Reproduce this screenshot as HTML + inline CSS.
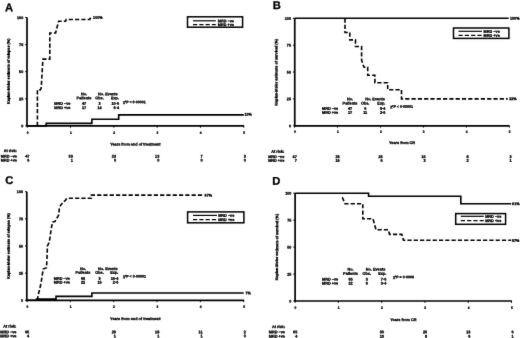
<!DOCTYPE html>
<html><head><meta charset="utf-8"><style>
html,body{margin:0;padding:0;background:#fff;width:520px;height:338px;overflow:hidden}
svg{display:block;filter:grayscale(1)}
text{stroke:#000;stroke-width:0.3px;font-family:"Liberation Sans",sans-serif}
</style></head><body>
<svg width="520" height="338" viewBox="0 0 520 338"><defs><filter id="b" filterUnits="userSpaceOnUse" x="0" y="0" width="520" height="338"><feConvolveMatrix order="3" kernelMatrix="1 10 1 10 100 10 1 10 1" divisor="144" edgeMode="duplicate"/></filter></defs><rect width="520" height="338" fill="#fff"/><g filter="url(#b)" stroke="#000" fill="#000" font-family="Liberation Sans, sans-serif"><text transform="translate(5.00,11.18) matrix(1 0.001 0 1 0 0)" font-size="11.2" text-anchor="start" font-weight="bold">A</text>
<line x1="27.00" y1="17.50" x2="27.00" y2="125.90" stroke-width="1.7"/>
<line x1="26.35" y1="125.90" x2="244.05" y2="125.90" stroke-width="1.7"/>
<line x1="25.20" y1="125.90" x2="27.00" y2="125.90" stroke-width="1.0"/>
<text transform="translate(23.20,127.31) matrix(1 0.001 0 1 0 0)" font-size="3.7" text-anchor="end" font-weight="bold">0</text>
<line x1="25.20" y1="98.80" x2="27.00" y2="98.80" stroke-width="1.0"/>
<text transform="translate(23.20,100.21) matrix(1 0.001 0 1 0 0)" font-size="3.7" text-anchor="end" font-weight="bold">25</text>
<line x1="25.20" y1="71.70" x2="27.00" y2="71.70" stroke-width="1.0"/>
<text transform="translate(23.20,73.11) matrix(1 0.001 0 1 0 0)" font-size="3.7" text-anchor="end" font-weight="bold">50</text>
<line x1="25.20" y1="44.60" x2="27.00" y2="44.60" stroke-width="1.0"/>
<text transform="translate(23.20,46.01) matrix(1 0.001 0 1 0 0)" font-size="3.7" text-anchor="end" font-weight="bold">75</text>
<line x1="25.20" y1="17.50" x2="27.00" y2="17.50" stroke-width="1.0"/>
<text transform="translate(23.20,18.91) matrix(1 0.001 0 1 0 0)" font-size="3.7" text-anchor="end" font-weight="bold">100</text>
<line x1="27.25" y1="125.90" x2="27.25" y2="127.70" stroke-width="1.0"/>
<text transform="translate(27.55,133.64) matrix(1 0.001 0 1 0 0)" font-size="3.2" text-anchor="middle" font-weight="bold">0</text>
<line x1="70.55" y1="125.90" x2="70.55" y2="127.70" stroke-width="1.0"/>
<text transform="translate(70.85,133.64) matrix(1 0.001 0 1 0 0)" font-size="3.2" text-anchor="middle" font-weight="bold">1</text>
<line x1="113.85" y1="125.90" x2="113.85" y2="127.70" stroke-width="1.0"/>
<text transform="translate(114.15,133.64) matrix(1 0.001 0 1 0 0)" font-size="3.2" text-anchor="middle" font-weight="bold">2</text>
<line x1="157.15" y1="125.90" x2="157.15" y2="127.70" stroke-width="1.0"/>
<text transform="translate(157.45,133.64) matrix(1 0.001 0 1 0 0)" font-size="3.2" text-anchor="middle" font-weight="bold">3</text>
<line x1="200.45" y1="125.90" x2="200.45" y2="127.70" stroke-width="1.0"/>
<text transform="translate(200.75,133.64) matrix(1 0.001 0 1 0 0)" font-size="3.2" text-anchor="middle" font-weight="bold">4</text>
<line x1="243.75" y1="125.90" x2="243.75" y2="127.70" stroke-width="1.0"/>
<text transform="translate(244.05,133.64) matrix(1 0.001 0 1 0 0)" font-size="3.2" text-anchor="middle" font-weight="bold">5</text>
<text transform="translate(135.38,145.55) matrix(1 0.001 0 1 0 0)" font-size="3.8" text-anchor="middle" font-weight="bold">Years from end of treatment</text>
<text transform="translate(9.83,71.30) rotate(-90) matrix(1 0.001 0 1 0 0)" font-size="3.75" text-anchor="middle" font-weight="bold">Kaplan-Meier estimate of relapse (%)</text>
<rect x="187.50" y="16.80" width="55.10" height="10.40" fill="none" stroke-width="1.5"/>
<line x1="193.00" y1="20.80" x2="215.80" y2="20.80" stroke-width="1.2"/>
<path d="M193.00,24.60H215.80" stroke-width="1.3" fill="none" stroke-dasharray="4.2 2.1"/>
<text transform="translate(217.80,22.15) matrix(1 0.001 0 1 0 0)" font-size="3.8" text-anchor="start" font-weight="bold">MRD −ve</text>
<text transform="translate(217.80,25.95) matrix(1 0.001 0 1 0 0)" font-size="3.8" text-anchor="start" font-weight="bold">MRD +ve</text>
<path d="M27,125.9H46.2V123.4H91.9V119.3H118.7V114.9H243.8" stroke-width="1.6" fill="none"/>
<path d="M37.4,125.9V89.9H40.3L41.2,88.1L42.9,59.1H49.8V33H55.6L58.6,21.3H65.6L66.2,19.5H89.8L90.6,17.5" stroke-width="1.6" fill="none" stroke-dasharray="4.2 2.1"/>
<text transform="translate(93.10,18.71) matrix(1 0.001 0 1 0 0)" font-size="3.7" text-anchor="start" font-weight="bold">100%</text>
<text transform="translate(244.50,115.41) matrix(1 0.001 0 1 0 0)" font-size="3.7" text-anchor="start" font-weight="bold">10%</text>
<text transform="translate(84.00,95.35) matrix(1 0.001 0 1 0 0)" font-size="3.8" text-anchor="middle" font-weight="bold">No.</text>
<text transform="translate(84.00,99.35) matrix(1 0.001 0 1 0 0)" font-size="3.8" text-anchor="middle" font-weight="bold">Patients</text>
<text transform="translate(98.10,95.35) matrix(1 0.001 0 1 0 0)" font-size="3.8" text-anchor="start" font-weight="bold">No. Events</text>
<text transform="translate(99.50,99.35) matrix(1 0.001 0 1 0 0)" font-size="3.8" text-anchor="middle" font-weight="bold">Obs.</text>
<text transform="translate(119.00,99.35) matrix(1 0.001 0 1 0 0)" font-size="3.8" text-anchor="end" font-weight="bold">Exp.</text>
<text transform="translate(122.90,103.28) matrix(1 0.001 0 1 0 0)" font-size="3.6" text-anchor="start" font-weight="bold">χ²P &lt; 0·00001</text>
<text transform="translate(54.30,104.75) matrix(1 0.001 0 1 0 0)" font-size="3.8" text-anchor="start" font-weight="bold">MRD −ve</text>
<text transform="translate(54.30,109.05) matrix(1 0.001 0 1 0 0)" font-size="3.8" text-anchor="start" font-weight="bold">MRD +ve</text>
<text transform="translate(84.00,104.75) matrix(1 0.001 0 1 0 0)" font-size="3.8" text-anchor="middle" font-weight="bold">47</text>
<text transform="translate(99.50,104.75) matrix(1 0.001 0 1 0 0)" font-size="3.8" text-anchor="middle" font-weight="bold">3</text>
<text transform="translate(119.00,104.75) matrix(1 0.001 0 1 0 0)" font-size="3.8" text-anchor="end" font-weight="bold">10·6</text>
<text transform="translate(84.00,109.05) matrix(1 0.001 0 1 0 0)" font-size="3.8" text-anchor="middle" font-weight="bold">17</text>
<text transform="translate(99.50,109.05) matrix(1 0.001 0 1 0 0)" font-size="3.8" text-anchor="middle" font-weight="bold">14</text>
<text transform="translate(119.00,109.05) matrix(1 0.001 0 1 0 0)" font-size="3.8" text-anchor="end" font-weight="bold">6·4</text>
<text transform="translate(16.90,151.95) matrix(1 0.001 0 1 0 0)" font-size="3.8" text-anchor="end" font-weight="bold">At risk:</text>
<text transform="translate(16.90,157.55) matrix(1 0.001 0 1 0 0)" font-size="3.8" text-anchor="end" font-weight="bold">MRD −ve</text>
<text transform="translate(16.90,161.45) matrix(1 0.001 0 1 0 0)" font-size="3.8" text-anchor="end" font-weight="bold">MRD +ve</text>
<text transform="translate(29.45,157.55) matrix(1 0.001 0 1 0 0)" font-size="3.8" text-anchor="end" font-weight="bold">47</text>
<text transform="translate(29.45,161.45) matrix(1 0.001 0 1 0 0)" font-size="3.8" text-anchor="end" font-weight="bold">6</text>
<text transform="translate(72.75,157.55) matrix(1 0.001 0 1 0 0)" font-size="3.8" text-anchor="end" font-weight="bold">33</text>
<text transform="translate(72.75,161.45) matrix(1 0.001 0 1 0 0)" font-size="3.8" text-anchor="end" font-weight="bold">1</text>
<text transform="translate(116.05,157.55) matrix(1 0.001 0 1 0 0)" font-size="3.8" text-anchor="end" font-weight="bold">23</text>
<text transform="translate(116.05,161.45) matrix(1 0.001 0 1 0 0)" font-size="3.8" text-anchor="end" font-weight="bold">0</text>
<text transform="translate(159.35,157.55) matrix(1 0.001 0 1 0 0)" font-size="3.8" text-anchor="end" font-weight="bold">13</text>
<text transform="translate(159.35,161.45) matrix(1 0.001 0 1 0 0)" font-size="3.8" text-anchor="end" font-weight="bold">0</text>
<text transform="translate(202.65,157.55) matrix(1 0.001 0 1 0 0)" font-size="3.8" text-anchor="end" font-weight="bold">7</text>
<text transform="translate(202.65,161.45) matrix(1 0.001 0 1 0 0)" font-size="3.8" text-anchor="end" font-weight="bold">0</text>
<text transform="translate(245.95,157.55) matrix(1 0.001 0 1 0 0)" font-size="3.8" text-anchor="end" font-weight="bold">3</text>
<text transform="translate(245.95,161.45) matrix(1 0.001 0 1 0 0)" font-size="3.8" text-anchor="end" font-weight="bold">0</text>
<text transform="translate(272.80,8.98) matrix(1 0.001 0 1 0 0)" font-size="11.2" text-anchor="start" font-weight="bold">B</text>
<line x1="294.75" y1="18.30" x2="294.75" y2="125.80" stroke-width="1.7"/>
<line x1="294.10" y1="125.80" x2="509.60" y2="125.80" stroke-width="1.7"/>
<line x1="292.95" y1="125.80" x2="294.75" y2="125.80" stroke-width="1.0"/>
<text transform="translate(290.95,127.21) matrix(1 0.001 0 1 0 0)" font-size="3.7" text-anchor="end" font-weight="bold">0</text>
<line x1="292.95" y1="98.92" x2="294.75" y2="98.92" stroke-width="1.0"/>
<text transform="translate(290.95,100.34) matrix(1 0.001 0 1 0 0)" font-size="3.7" text-anchor="end" font-weight="bold">25</text>
<line x1="292.95" y1="72.05" x2="294.75" y2="72.05" stroke-width="1.0"/>
<text transform="translate(290.95,73.46) matrix(1 0.001 0 1 0 0)" font-size="3.7" text-anchor="end" font-weight="bold">50</text>
<line x1="292.95" y1="45.17" x2="294.75" y2="45.17" stroke-width="1.0"/>
<text transform="translate(290.95,46.59) matrix(1 0.001 0 1 0 0)" font-size="3.7" text-anchor="end" font-weight="bold">75</text>
<line x1="292.95" y1="18.30" x2="294.75" y2="18.30" stroke-width="1.0"/>
<text transform="translate(290.95,19.71) matrix(1 0.001 0 1 0 0)" font-size="3.7" text-anchor="end" font-weight="bold">100</text>
<line x1="294.60" y1="125.80" x2="294.60" y2="127.60" stroke-width="1.0"/>
<text transform="translate(294.90,132.74) matrix(1 0.001 0 1 0 0)" font-size="3.2" text-anchor="middle" font-weight="bold">0</text>
<line x1="337.54" y1="125.80" x2="337.54" y2="127.60" stroke-width="1.0"/>
<text transform="translate(337.84,132.74) matrix(1 0.001 0 1 0 0)" font-size="3.2" text-anchor="middle" font-weight="bold">1</text>
<line x1="380.48" y1="125.80" x2="380.48" y2="127.60" stroke-width="1.0"/>
<text transform="translate(380.78,132.74) matrix(1 0.001 0 1 0 0)" font-size="3.2" text-anchor="middle" font-weight="bold">2</text>
<line x1="423.42" y1="125.80" x2="423.42" y2="127.60" stroke-width="1.0"/>
<text transform="translate(423.72,132.74) matrix(1 0.001 0 1 0 0)" font-size="3.2" text-anchor="middle" font-weight="bold">3</text>
<line x1="466.36" y1="125.80" x2="466.36" y2="127.60" stroke-width="1.0"/>
<text transform="translate(466.66,132.74) matrix(1 0.001 0 1 0 0)" font-size="3.2" text-anchor="middle" font-weight="bold">4</text>
<line x1="509.30" y1="125.80" x2="509.30" y2="127.60" stroke-width="1.0"/>
<text transform="translate(509.60,132.74) matrix(1 0.001 0 1 0 0)" font-size="3.2" text-anchor="middle" font-weight="bold">5</text>
<text transform="translate(402.02,143.95) matrix(1 0.001 0 1 0 0)" font-size="3.8" text-anchor="middle" font-weight="bold">Years from CR</text>
<text transform="translate(277.53,72.20) rotate(-90) matrix(1 0.001 0 1 0 0)" font-size="3.75" text-anchor="middle" font-weight="bold">Kaplan-Meier estimate of survival (%)</text>
<rect x="453.50" y="28.00" width="55.40" height="10.40" fill="none" stroke-width="1.5"/>
<line x1="458.50" y1="31.30" x2="481.90" y2="31.30" stroke-width="1.2"/>
<path d="M458.50,35.40H481.90" stroke-width="1.3" fill="none" stroke-dasharray="4.2 2.1"/>
<text transform="translate(483.60,32.65) matrix(1 0.001 0 1 0 0)" font-size="3.8" text-anchor="start" font-weight="bold">MRD −ve</text>
<text transform="translate(483.60,36.75) matrix(1 0.001 0 1 0 0)" font-size="3.8" text-anchor="start" font-weight="bold">MRD +ve</text>
<path d="M294.75,18.3H508.7" stroke-width="1.6" fill="none"/>
<path d="M345,18.5V32.5H349.8V39.9H355.5V46.5H361.6V60L364,67.3H367.7V75.3H374.9V82.7H387.7V89.75H401.5V98.9H507.7" stroke-width="1.6" fill="none" stroke-dasharray="4.2 2.1"/>
<text transform="translate(510.00,19.61) matrix(1 0.001 0 1 0 0)" font-size="3.7" text-anchor="start" font-weight="bold">100%</text>
<text transform="translate(509.20,100.11) matrix(1 0.001 0 1 0 0)" font-size="3.7" text-anchor="start" font-weight="bold">22%</text>
<text transform="translate(350.00,100.35) matrix(1 0.001 0 1 0 0)" font-size="3.8" text-anchor="middle" font-weight="bold">No.</text>
<text transform="translate(350.00,104.45) matrix(1 0.001 0 1 0 0)" font-size="3.8" text-anchor="middle" font-weight="bold">Patients</text>
<text transform="translate(365.20,100.35) matrix(1 0.001 0 1 0 0)" font-size="3.8" text-anchor="start" font-weight="bold">No. Events</text>
<text transform="translate(365.20,104.45) matrix(1 0.001 0 1 0 0)" font-size="3.8" text-anchor="middle" font-weight="bold">Obs.</text>
<text transform="translate(385.40,104.45) matrix(1 0.001 0 1 0 0)" font-size="3.8" text-anchor="end" font-weight="bold">Exp.</text>
<text transform="translate(390.20,107.78) matrix(1 0.001 0 1 0 0)" font-size="3.6" text-anchor="start" font-weight="bold">χ²P &lt; 0·00001</text>
<text transform="translate(322.00,109.65) matrix(1 0.001 0 1 0 0)" font-size="3.8" text-anchor="start" font-weight="bold">MRD −ve</text>
<text transform="translate(322.00,113.85) matrix(1 0.001 0 1 0 0)" font-size="3.8" text-anchor="start" font-weight="bold">MRD +ve</text>
<text transform="translate(350.00,109.65) matrix(1 0.001 0 1 0 0)" font-size="3.8" text-anchor="middle" font-weight="bold">47</text>
<text transform="translate(365.20,109.65) matrix(1 0.001 0 1 0 0)" font-size="3.8" text-anchor="middle" font-weight="bold">6</text>
<text transform="translate(385.40,109.65) matrix(1 0.001 0 1 0 0)" font-size="3.8" text-anchor="end" font-weight="bold">9·4</text>
<text transform="translate(350.00,113.85) matrix(1 0.001 0 1 0 0)" font-size="3.8" text-anchor="middle" font-weight="bold">17</text>
<text transform="translate(365.20,113.85) matrix(1 0.001 0 1 0 0)" font-size="3.8" text-anchor="middle" font-weight="bold">11</text>
<text transform="translate(385.40,113.85) matrix(1 0.001 0 1 0 0)" font-size="3.8" text-anchor="end" font-weight="bold">2·6</text>
<text transform="translate(284.30,152.75) matrix(1 0.001 0 1 0 0)" font-size="3.8" text-anchor="end" font-weight="bold">At risk:</text>
<text transform="translate(284.30,157.95) matrix(1 0.001 0 1 0 0)" font-size="3.8" text-anchor="end" font-weight="bold">MRD −ve</text>
<text transform="translate(284.30,161.85) matrix(1 0.001 0 1 0 0)" font-size="3.8" text-anchor="end" font-weight="bold">MRD +ve</text>
<text transform="translate(296.80,157.95) matrix(1 0.001 0 1 0 0)" font-size="3.8" text-anchor="end" font-weight="bold">47</text>
<text transform="translate(296.80,161.85) matrix(1 0.001 0 1 0 0)" font-size="3.8" text-anchor="end" font-weight="bold">7</text>
<text transform="translate(339.74,157.95) matrix(1 0.001 0 1 0 0)" font-size="3.8" text-anchor="end" font-weight="bold">33</text>
<text transform="translate(339.74,161.85) matrix(1 0.001 0 1 0 0)" font-size="3.8" text-anchor="end" font-weight="bold">16</text>
<text transform="translate(382.68,157.95) matrix(1 0.001 0 1 0 0)" font-size="3.8" text-anchor="end" font-weight="bold">26</text>
<text transform="translate(382.68,161.85) matrix(1 0.001 0 1 0 0)" font-size="3.8" text-anchor="end" font-weight="bold">6</text>
<text transform="translate(425.62,157.95) matrix(1 0.001 0 1 0 0)" font-size="3.8" text-anchor="end" font-weight="bold">15</text>
<text transform="translate(425.62,161.85) matrix(1 0.001 0 1 0 0)" font-size="3.8" text-anchor="end" font-weight="bold">3</text>
<text transform="translate(468.56,157.95) matrix(1 0.001 0 1 0 0)" font-size="3.8" text-anchor="end" font-weight="bold">8</text>
<text transform="translate(468.56,161.85) matrix(1 0.001 0 1 0 0)" font-size="3.8" text-anchor="end" font-weight="bold">2</text>
<text transform="translate(511.50,157.95) matrix(1 0.001 0 1 0 0)" font-size="3.8" text-anchor="end" font-weight="bold">3</text>
<text transform="translate(511.50,161.85) matrix(1 0.001 0 1 0 0)" font-size="3.8" text-anchor="end" font-weight="bold">1</text>
<text transform="translate(5.30,183.98) matrix(1 0.001 0 1 0 0)" font-size="11.2" text-anchor="start" font-weight="bold">C</text>
<line x1="26.80" y1="191.70" x2="26.80" y2="300.30" stroke-width="1.7"/>
<line x1="26.15" y1="300.30" x2="244.05" y2="300.30" stroke-width="1.7"/>
<line x1="25.00" y1="300.30" x2="26.80" y2="300.30" stroke-width="1.0"/>
<text transform="translate(23.00,301.71) matrix(1 0.001 0 1 0 0)" font-size="3.7" text-anchor="end" font-weight="bold">0</text>
<line x1="25.00" y1="273.15" x2="26.80" y2="273.15" stroke-width="1.0"/>
<text transform="translate(23.00,274.56) matrix(1 0.001 0 1 0 0)" font-size="3.7" text-anchor="end" font-weight="bold">25</text>
<line x1="25.00" y1="246.00" x2="26.80" y2="246.00" stroke-width="1.0"/>
<text transform="translate(23.00,247.41) matrix(1 0.001 0 1 0 0)" font-size="3.7" text-anchor="end" font-weight="bold">50</text>
<line x1="25.00" y1="218.85" x2="26.80" y2="218.85" stroke-width="1.0"/>
<text transform="translate(23.00,220.26) matrix(1 0.001 0 1 0 0)" font-size="3.7" text-anchor="end" font-weight="bold">75</text>
<line x1="25.00" y1="191.70" x2="26.80" y2="191.70" stroke-width="1.0"/>
<text transform="translate(23.00,193.11) matrix(1 0.001 0 1 0 0)" font-size="3.7" text-anchor="end" font-weight="bold">100</text>
<line x1="27.00" y1="300.30" x2="27.00" y2="302.10" stroke-width="1.0"/>
<text transform="translate(27.30,307.84) matrix(1 0.001 0 1 0 0)" font-size="3.2" text-anchor="middle" font-weight="bold">0</text>
<line x1="70.35" y1="300.30" x2="70.35" y2="302.10" stroke-width="1.0"/>
<text transform="translate(70.65,307.84) matrix(1 0.001 0 1 0 0)" font-size="3.2" text-anchor="middle" font-weight="bold">1</text>
<line x1="113.70" y1="300.30" x2="113.70" y2="302.10" stroke-width="1.0"/>
<text transform="translate(114.00,307.84) matrix(1 0.001 0 1 0 0)" font-size="3.2" text-anchor="middle" font-weight="bold">2</text>
<line x1="157.05" y1="300.30" x2="157.05" y2="302.10" stroke-width="1.0"/>
<text transform="translate(157.35,307.84) matrix(1 0.001 0 1 0 0)" font-size="3.2" text-anchor="middle" font-weight="bold">3</text>
<line x1="200.40" y1="300.30" x2="200.40" y2="302.10" stroke-width="1.0"/>
<text transform="translate(200.70,307.84) matrix(1 0.001 0 1 0 0)" font-size="3.2" text-anchor="middle" font-weight="bold">4</text>
<line x1="243.75" y1="300.30" x2="243.75" y2="302.10" stroke-width="1.0"/>
<text transform="translate(244.05,307.84) matrix(1 0.001 0 1 0 0)" font-size="3.2" text-anchor="middle" font-weight="bold">5</text>
<text transform="translate(135.28,319.95) matrix(1 0.001 0 1 0 0)" font-size="3.8" text-anchor="middle" font-weight="bold">Years from end of treatment</text>
<text transform="translate(9.83,246.00) rotate(-90) matrix(1 0.001 0 1 0 0)" font-size="3.75" text-anchor="middle" font-weight="bold">Kaplan-Meier estimate of relapse (%)</text>
<rect x="187.60" y="211.90" width="56.30" height="10.90" fill="none" stroke-width="1.5"/>
<line x1="193.00" y1="215.40" x2="216.90" y2="215.40" stroke-width="1.2"/>
<path d="M193.00,219.70H216.90" stroke-width="1.3" fill="none" stroke-dasharray="4.2 2.1"/>
<text transform="translate(218.20,216.75) matrix(1 0.001 0 1 0 0)" font-size="3.8" text-anchor="start" font-weight="bold">MRD −ve</text>
<text transform="translate(218.20,221.05) matrix(1 0.001 0 1 0 0)" font-size="3.8" text-anchor="start" font-weight="bold">MRD +ve</text>
<path d="M26.8,300.3H36.5V299.1H56.0V296.4H91.9V293.0H243.75" stroke-width="1.6" fill="none"/>
<path d="M37.5,300.3L38,295.8L40,288L41.3,281.4L43.2,269L46.5,267.8L47,258L47.4,246L49.3,242.4L50.5,233.7L52.4,222L55,221.5L56.9,218.1L58.75,215L59.4,207.5L61.25,204.4L65.6,200L66.9,198.3H91.25V195.1H204" stroke-width="1.6" fill="none" stroke-dasharray="4.2 2.1"/>
<text transform="translate(204.60,196.41) matrix(1 0.001 0 1 0 0)" font-size="3.7" text-anchor="start" font-weight="bold">97%</text>
<text transform="translate(245.50,294.31) matrix(1 0.001 0 1 0 0)" font-size="3.7" text-anchor="start" font-weight="bold">7%</text>
<text transform="translate(83.00,270.05) matrix(1 0.001 0 1 0 0)" font-size="3.8" text-anchor="middle" font-weight="bold">No.</text>
<text transform="translate(83.00,273.85) matrix(1 0.001 0 1 0 0)" font-size="3.8" text-anchor="middle" font-weight="bold">Patients</text>
<text transform="translate(98.00,270.05) matrix(1 0.001 0 1 0 0)" font-size="3.8" text-anchor="start" font-weight="bold">No. Events</text>
<text transform="translate(99.50,273.85) matrix(1 0.001 0 1 0 0)" font-size="3.8" text-anchor="middle" font-weight="bold">Obs.</text>
<text transform="translate(118.30,273.85) matrix(1 0.001 0 1 0 0)" font-size="3.8" text-anchor="end" font-weight="bold">Exp.</text>
<text transform="translate(123.00,277.58) matrix(1 0.001 0 1 0 0)" font-size="3.6" text-anchor="start" font-weight="bold">χ²P &lt; 0·00001</text>
<text transform="translate(53.80,279.65) matrix(1 0.001 0 1 0 0)" font-size="3.8" text-anchor="start" font-weight="bold">MRD −ve</text>
<text transform="translate(53.80,283.45) matrix(1 0.001 0 1 0 0)" font-size="3.8" text-anchor="start" font-weight="bold">MRD +ve</text>
<text transform="translate(83.00,279.65) matrix(1 0.001 0 1 0 0)" font-size="3.8" text-anchor="middle" font-weight="bold">65</text>
<text transform="translate(99.50,279.65) matrix(1 0.001 0 1 0 0)" font-size="3.8" text-anchor="middle" font-weight="bold">3</text>
<text transform="translate(118.30,279.65) matrix(1 0.001 0 1 0 0)" font-size="3.8" text-anchor="end" font-weight="bold">16·4</text>
<text transform="translate(83.00,283.45) matrix(1 0.001 0 1 0 0)" font-size="3.8" text-anchor="middle" font-weight="bold">22</text>
<text transform="translate(99.50,283.45) matrix(1 0.001 0 1 0 0)" font-size="3.8" text-anchor="middle" font-weight="bold">16</text>
<text transform="translate(118.30,283.45) matrix(1 0.001 0 1 0 0)" font-size="3.8" text-anchor="end" font-weight="bold">2·6</text>
<text transform="translate(16.40,327.45) matrix(1 0.001 0 1 0 0)" font-size="3.8" text-anchor="end" font-weight="bold">At risk:</text>
<text transform="translate(16.40,333.35) matrix(1 0.001 0 1 0 0)" font-size="3.8" text-anchor="end" font-weight="bold">MRD −ve</text>
<text transform="translate(16.40,337.15) matrix(1 0.001 0 1 0 0)" font-size="3.8" text-anchor="end" font-weight="bold">MRD +ve</text>
<text transform="translate(29.20,333.35) matrix(1 0.001 0 1 0 0)" font-size="3.8" text-anchor="end" font-weight="bold">65</text>
<text transform="translate(29.20,337.15) matrix(1 0.001 0 1 0 0)" font-size="3.8" text-anchor="end" font-weight="bold">4</text>
<text transform="translate(115.90,333.35) matrix(1 0.001 0 1 0 0)" font-size="3.8" text-anchor="end" font-weight="bold">29</text>
<text transform="translate(115.90,337.15) matrix(1 0.001 0 1 0 0)" font-size="3.8" text-anchor="end" font-weight="bold">1</text>
<text transform="translate(159.25,333.35) matrix(1 0.001 0 1 0 0)" font-size="3.8" text-anchor="end" font-weight="bold">18</text>
<text transform="translate(159.25,337.15) matrix(1 0.001 0 1 0 0)" font-size="3.8" text-anchor="end" font-weight="bold">1</text>
<text transform="translate(202.60,333.35) matrix(1 0.001 0 1 0 0)" font-size="3.8" text-anchor="end" font-weight="bold">11</text>
<text transform="translate(202.60,337.15) matrix(1 0.001 0 1 0 0)" font-size="3.8" text-anchor="end" font-weight="bold">1</text>
<text transform="translate(245.95,333.35) matrix(1 0.001 0 1 0 0)" font-size="3.8" text-anchor="end" font-weight="bold">2</text>
<text transform="translate(245.95,337.15) matrix(1 0.001 0 1 0 0)" font-size="3.8" text-anchor="end" font-weight="bold">0</text>
<text transform="translate(272.30,184.78) matrix(1 0.001 0 1 0 0)" font-size="11.2" text-anchor="start" font-weight="bold">D</text>
<line x1="295.10" y1="193.20" x2="295.10" y2="301.00" stroke-width="1.7"/>
<line x1="294.45" y1="301.00" x2="511.80" y2="301.00" stroke-width="1.7"/>
<line x1="293.30" y1="301.00" x2="295.10" y2="301.00" stroke-width="1.0"/>
<text transform="translate(291.30,302.41) matrix(1 0.001 0 1 0 0)" font-size="3.7" text-anchor="end" font-weight="bold">0</text>
<line x1="293.30" y1="274.05" x2="295.10" y2="274.05" stroke-width="1.0"/>
<text transform="translate(291.30,275.46) matrix(1 0.001 0 1 0 0)" font-size="3.7" text-anchor="end" font-weight="bold">25</text>
<line x1="293.30" y1="247.10" x2="295.10" y2="247.10" stroke-width="1.0"/>
<text transform="translate(291.30,248.51) matrix(1 0.001 0 1 0 0)" font-size="3.7" text-anchor="end" font-weight="bold">50</text>
<line x1="293.30" y1="220.15" x2="295.10" y2="220.15" stroke-width="1.0"/>
<text transform="translate(291.30,221.56) matrix(1 0.001 0 1 0 0)" font-size="3.7" text-anchor="end" font-weight="bold">75</text>
<line x1="293.30" y1="193.20" x2="295.10" y2="193.20" stroke-width="1.0"/>
<text transform="translate(291.30,194.61) matrix(1 0.001 0 1 0 0)" font-size="3.7" text-anchor="end" font-weight="bold">100</text>
<line x1="295.10" y1="301.00" x2="295.10" y2="302.80" stroke-width="1.0"/>
<text transform="translate(295.40,308.84) matrix(1 0.001 0 1 0 0)" font-size="3.2" text-anchor="middle" font-weight="bold">0</text>
<line x1="338.38" y1="301.00" x2="338.38" y2="302.80" stroke-width="1.0"/>
<text transform="translate(338.68,308.84) matrix(1 0.001 0 1 0 0)" font-size="3.2" text-anchor="middle" font-weight="bold">1</text>
<line x1="381.66" y1="301.00" x2="381.66" y2="302.80" stroke-width="1.0"/>
<text transform="translate(381.96,308.84) matrix(1 0.001 0 1 0 0)" font-size="3.2" text-anchor="middle" font-weight="bold">2</text>
<line x1="424.94" y1="301.00" x2="424.94" y2="302.80" stroke-width="1.0"/>
<text transform="translate(425.24,308.84) matrix(1 0.001 0 1 0 0)" font-size="3.2" text-anchor="middle" font-weight="bold">3</text>
<line x1="468.22" y1="301.00" x2="468.22" y2="302.80" stroke-width="1.0"/>
<text transform="translate(468.52,308.84) matrix(1 0.001 0 1 0 0)" font-size="3.2" text-anchor="middle" font-weight="bold">4</text>
<line x1="511.50" y1="301.00" x2="511.50" y2="302.80" stroke-width="1.0"/>
<text transform="translate(511.80,308.84) matrix(1 0.001 0 1 0 0)" font-size="3.2" text-anchor="middle" font-weight="bold">5</text>
<text transform="translate(403.30,320.95) matrix(1 0.001 0 1 0 0)" font-size="3.8" text-anchor="middle" font-weight="bold">Years from CR</text>
<text transform="translate(278.13,247.10) rotate(-90) matrix(1 0.001 0 1 0 0)" font-size="3.75" text-anchor="middle" font-weight="bold">Kaplan-Meier estimate of survival (%)</text>
<rect x="455.70" y="213.60" width="49.90" height="10.70" fill="none" stroke-width="1.5"/>
<line x1="460.80" y1="216.30" x2="483.80" y2="216.30" stroke-width="1.2"/>
<path d="M460.80,220.60H483.80" stroke-width="1.3" fill="none" stroke-dasharray="4.2 2.1"/>
<text transform="translate(485.20,217.65) matrix(1 0.001 0 1 0 0)" font-size="3.8" text-anchor="start" font-weight="bold">MRD −ve</text>
<text transform="translate(485.20,221.95) matrix(1 0.001 0 1 0 0)" font-size="3.8" text-anchor="start" font-weight="bold">MRD +ve</text>
<path d="M295.1,193.3H368.6V196.2H460.8V203.8H511.2" stroke-width="1.6" fill="none"/>
<path d="M342.3,197.3L345,203.7H362.8V218.8H373L376,229.8H388.3L389.6,234.4H401.8L403.5,240.3H511.2" stroke-width="1.6" fill="none" stroke-dasharray="4.2 2.1"/>
<text transform="translate(512.10,205.01) matrix(1 0.001 0 1 0 0)" font-size="3.7" text-anchor="start" font-weight="bold">91%</text>
<text transform="translate(512.00,241.71) matrix(1 0.001 0 1 0 0)" font-size="3.7" text-anchor="start" font-weight="bold">57%</text>
<text transform="translate(350.50,270.55) matrix(1 0.001 0 1 0 0)" font-size="3.8" text-anchor="middle" font-weight="bold">No.</text>
<text transform="translate(350.50,274.85) matrix(1 0.001 0 1 0 0)" font-size="3.8" text-anchor="middle" font-weight="bold">Patients</text>
<text transform="translate(365.80,270.55) matrix(1 0.001 0 1 0 0)" font-size="3.8" text-anchor="start" font-weight="bold">No. Events</text>
<text transform="translate(366.80,274.85) matrix(1 0.001 0 1 0 0)" font-size="3.8" text-anchor="middle" font-weight="bold">Obs.</text>
<text transform="translate(386.30,274.85) matrix(1 0.001 0 1 0 0)" font-size="3.8" text-anchor="end" font-weight="bold">Exp.</text>
<text transform="translate(393.00,278.18) matrix(1 0.001 0 1 0 0)" font-size="3.6" text-anchor="start" font-weight="bold">χ²P = 0·0006</text>
<text transform="translate(322.00,280.55) matrix(1 0.001 0 1 0 0)" font-size="3.8" text-anchor="start" font-weight="bold">MRD −ve</text>
<text transform="translate(322.00,284.45) matrix(1 0.001 0 1 0 0)" font-size="3.8" text-anchor="start" font-weight="bold">MRD +ve</text>
<text transform="translate(350.50,280.55) matrix(1 0.001 0 1 0 0)" font-size="3.8" text-anchor="middle" font-weight="bold">65</text>
<text transform="translate(366.80,280.55) matrix(1 0.001 0 1 0 0)" font-size="3.8" text-anchor="middle" font-weight="bold">3</text>
<text transform="translate(386.30,280.55) matrix(1 0.001 0 1 0 0)" font-size="3.8" text-anchor="end" font-weight="bold">7·6</text>
<text transform="translate(350.50,284.45) matrix(1 0.001 0 1 0 0)" font-size="3.8" text-anchor="middle" font-weight="bold">22</text>
<text transform="translate(366.80,284.45) matrix(1 0.001 0 1 0 0)" font-size="3.8" text-anchor="middle" font-weight="bold">9</text>
<text transform="translate(386.30,284.45) matrix(1 0.001 0 1 0 0)" font-size="3.8" text-anchor="end" font-weight="bold">3·4</text>
<text transform="translate(285.00,328.10) matrix(1 0.001 0 1 0 0)" font-size="3.8" text-anchor="end" font-weight="bold">At risk:</text>
<text transform="translate(285.00,333.35) matrix(1 0.001 0 1 0 0)" font-size="3.8" text-anchor="end" font-weight="bold">MRD −ve</text>
<text transform="translate(285.00,337.60) matrix(1 0.001 0 1 0 0)" font-size="3.8" text-anchor="end" font-weight="bold">MRD +ve</text>
<text transform="translate(297.30,333.35) matrix(1 0.001 0 1 0 0)" font-size="3.8" text-anchor="end" font-weight="bold">65</text>
<text transform="translate(297.30,337.60) matrix(1 0.001 0 1 0 0)" font-size="3.8" text-anchor="end" font-weight="bold">4</text>
<text transform="translate(383.86,333.35) matrix(1 0.001 0 1 0 0)" font-size="3.8" text-anchor="end" font-weight="bold">30</text>
<text transform="translate(383.86,337.60) matrix(1 0.001 0 1 0 0)" font-size="3.8" text-anchor="end" font-weight="bold">13</text>
<text transform="translate(427.14,333.35) matrix(1 0.001 0 1 0 0)" font-size="3.8" text-anchor="end" font-weight="bold">20</text>
<text transform="translate(427.14,337.60) matrix(1 0.001 0 1 0 0)" font-size="3.8" text-anchor="end" font-weight="bold">8</text>
<text transform="translate(470.42,333.35) matrix(1 0.001 0 1 0 0)" font-size="3.8" text-anchor="end" font-weight="bold">13</text>
<text transform="translate(470.42,337.60) matrix(1 0.001 0 1 0 0)" font-size="3.8" text-anchor="end" font-weight="bold">6</text>
<text transform="translate(513.70,333.35) matrix(1 0.001 0 1 0 0)" font-size="3.8" text-anchor="end" font-weight="bold">6</text>
<text transform="translate(513.70,337.60) matrix(1 0.001 0 1 0 0)" font-size="3.8" text-anchor="end" font-weight="bold">1</text></g></svg>
</body></html>
